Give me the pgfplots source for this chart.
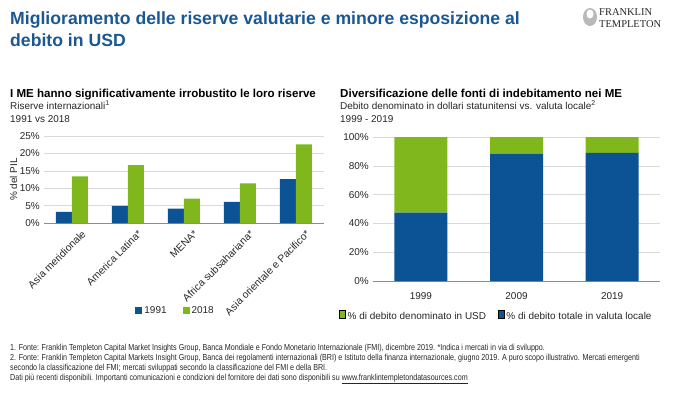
\documentclass[border=0pt]{standalone}
\usepackage{fontspec}
\setmainfont{Liberation Sans}
\newfontfamily\seriffont{Liberation Serif}
\newfontfamily\narrow[FakeStretch=0.82]{Liberation Sans}
\usepackage{pgfplots}
\pgfplotsset{compat=1.18}
\definecolor{fblue}{HTML}{0B5394}
\definecolor{fgreen}{HTML}{80B71C}
\definecolor{ftitle}{HTML}{1A5794}
\definecolor{ftext}{HTML}{262626}
\definecolor{fgrid}{HTML}{D9D9D9}
\definecolor{faxis}{HTML}{8C8C8C}
\newcommand{\fs}[1]{\fontsize{#1}{#1}\selectfont}
\pgfplotsset{
  ybar legend/.style={legend image code/.code={\fill[##1] (0bp,-3.5bp) rectangle (7bp,3.5bp);}},
  fbase/.style={
    scale only axis,
    anchor=south west,
    enlarge y limits=false,
    axis x line*=bottom,
    axis y line*=left,
    x axis line style={draw=faxis,-},
    y axis line style={draw=none},
    major tick length=0pt,
    ymajorgrids, major grid style={draw=fgrid},
    /pgf/number format/assume math mode=true,
    tick label style={text=ftext},
    yticklabel={\pgfmathprintnumber{\tick}\%},
    yticklabel style={font=\fs{10}, inner sep=1bp, xshift=-3bp},
    legend cell align=left,
  }
}
\begin{document}
\begin{tikzpicture}
\path[use as bounding box] (0,0) rectangle (674bp,-395bp);
% title
\node[anchor=base west, inner sep=0, text=ftitle, font=\bfseries\fs{17.7}] at (10bp,-24bp) {Miglioramento delle riserve valutarie e minore esposizione al};
\node[anchor=base west, inner sep=0, text=ftitle, font=\bfseries\fs{17.7}] at (10bp,-46bp) {debito in USD};
% logo
\fill[gray!55] (590bp,-17bp) ellipse (7bp and 9bp);
\fill[white] (590bp,-14bp) ellipse (3.5bp and 4.5bp);
\node[anchor=base west, inner sep=0, font=\seriffont\fs{10.5}, text=black!85] at (599bp,-15bp) {FRANKLIN};
\node[anchor=base west, inner sep=0, font=\seriffont\fs{10.5}, text=black!85] at (599bp,-27bp) {TEMPLETON};
% left headings
\node[anchor=base west, inner sep=0, font=\bfseries\fs{11.6}, text=black] at (10bp,-97bp) {I ME hanno significativamente irrobustito le loro riserve};
\node[anchor=base west, inner sep=0, font=\fs{10}, text=ftext] at (10bp,-109bp) {Riserve internazionali\textsuperscript{1}};
\node[anchor=base west, inner sep=0, font=\fs{10}, text=ftext] at (10bp,-122bp) {1991 vs 2018};
% right headings
\node[anchor=base west, inner sep=0, font=\bfseries\fs{11.6}, text=black] at (340bp,-97bp) {Diversificazione delle fonti di indebitamento nei ME};
\node[anchor=base west, inner sep=0, font=\fs{10}, text=ftext] at (340bp,-109bp) {Debito denominato in dollari statunitensi vs. valuta locale\textsuperscript{2}};
\node[anchor=base west, inner sep=0, font=\fs{10}, text=ftext] at (340bp,-122bp) {1999 - 2019};

% left chart
\begin{axis}[fbase,
  at={(44bp,-223bp)}, width=280bp, height=87bp,
  ybar=0pt, bar width=16bp,
  xmin=-0.5, xmax=4.5, ymin=0, ymax=25,
  xtick={0,...,4},
  xticklabels={Asia meridionale, America Latina*, MENA*, Africa subsahariana*, Asia orientale e Pacifico*},
  xticklabel style={rotate=45, anchor=north east, font=\fs{10.4}, inner sep=1bp, xshift=3bp, yshift=-10bp},
  ytick={0,5,...,25},
  ylabel={\% del PIL}, ylabel style={font=\fs{10}, text=ftext, yshift=-2bp},
  legend style={at={(0.47,-1.01)}, anchor=center, draw=none, fill=none, font=\fs{10}, text=ftext,
    legend columns=2, /tikz/every even column/.append style={column sep=14bp}},
]
\addplot[fill=fblue, draw=none] coordinates {(0,3.2) (1,4.9) (2,4.1) (3,6.1) (4,12.6)};
\addplot[fill=fgreen, draw=none] coordinates {(0,13.4) (1,16.6) (2,7.0) (3,11.4) (4,22.6)};
\legend{1991,2018}
\end{axis}

% right chart
\begin{axis}[fbase,
  at={(373bp,-281bp)}, width=287bp, height=144bp,
  ybar stacked, bar width=53bp,
  xmin=-0.5, xmax=2.5, ymin=0, ymax=100,
  xtick={0,1,2}, xticklabels={1999,2009,2019},
  xticklabel style={font=\fs{10}, yshift=-8bp},
  ytick={0,20,...,100},
  reverse legend,
  legend style={at={(0.43,-0.245)}, anchor=center, draw=none, fill=none, font=\fs{10}, text=ftext,
    legend columns=2, /tikz/every even column/.append style={column sep=10bp}},
]
\addplot[fill=fblue, draw=none] coordinates {(0,47.5) (1,88.5) (2,89)};
\addplot[fill=fgreen, draw=none] coordinates {(0,52.5) (1,11.5) (2,11)};
\legend{\% di debito totale in valuta locale, \% di debito denominato in USD}
\end{axis}

% footnotes
\begin{scope}[every node/.style={anchor=base west, inner sep=0, font=\narrow\fs{8.75}, text=ftext}]
\node at (10bp,-350bp) {1. Fonte: Franklin Templeton Capital Market Insights Group, Banca Mondiale e Fondo Monetario Internazionale (FMI), dicembre 2019. *Indica i mercati in via di sviluppo.};
\node at (10bp,-360bp) {2. Fonte: Franklin Templeton Capital Markets Insight Group, Banca dei regolamenti internazionali (BRI) e Istituto della finanza internazionale, giugno 2019. A puro scopo illustrativo. Mercati emergenti};
\node at (10bp,-370bp) {secondo la classificazione del FMI; mercati sviluppati secondo la classificazione del FMI e della BRI.};
\node at (10bp,-380bp) {Dati più recenti disponibili. Importanti comunicazioni e condizioni del fornitore dei dati sono disponibili su \underline{www.franklintempletondatasources.com}};
\end{scope}
\end{tikzpicture}
\end{document}
